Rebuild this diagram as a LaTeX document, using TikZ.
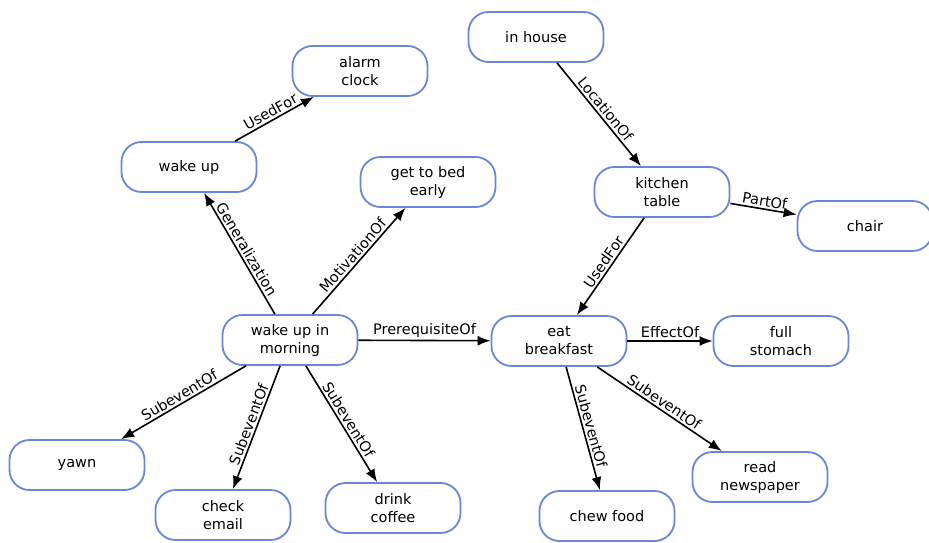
\documentclass[tikz,border=0pt]{standalone}
\usepackage{fontspec}
\setmainfont{DejaVu Sans}
\usetikzlibrary{arrows.meta}
\definecolor{nodeblue}{RGB}{105,135,215}
\tikzset{
  concept/.style={draw=nodeblue, line width=1.8pt, rounded corners=20pt, fill=white,
    minimum width=135pt, minimum height=50pt, align=center, inner sep=2pt,
    font=\fontsize{14.5}{18}\selectfont},
  rel/.style={draw=black, line width=1.6pt, -{Latex[length=13pt,width=10pt]}},
  lab/.style={sloped, above, inner sep=2pt, font=\fontsize{14.5}{16}\selectfont}
}
\begin{document}
\begin{tikzpicture}[x=1pt,y=-1pt]
\useasboundingbox (0,0) rectangle (929,543);
\node[concept] (alarm) at (360,71) {alarm\\clock};
\node[concept] (wake) at (189,167) {wake up};
\node[concept] (bed) at (428,182) {get to bed\\early};
\node[concept] (wuim) at (290,340) {wake up in\\morning};
\node[concept] (eat) at (559,341) {eat\\breakfast};
\node[concept] (full) at (781,341) {full\\stomach};
\node[concept] (news) at (760,477) {read\\newspaper};
\node[concept] (chew) at (607,516) {chew food};
\node[concept] (house) at (536,37) {in house};
\node[concept] (kitchen) at (662,192) {kitchen\\table};
\node[concept] (chair) at (865,226) {chair};
\node[concept] (yawn) at (77,465) {yawn};
\node[concept] (email) at (223,515) {check\\email};
\node[concept] (coffee) at (393,508) {drink\\coffee};

\draw[rel] (wake) -- node[lab] {UsedFor} (alarm);
\draw[rel] (wuim) -- node[lab] {Generalization} (wake);
\draw[rel] (wuim) -- node[lab] {MotivationOf} (bed);
\draw[rel] (wuim) -- node[lab] {PrerequisiteOf} (eat);
\draw[rel] (kitchen) -- node[lab] {UsedFor} (eat);
\draw[rel] (house) -- node[lab] {LocationOf} (kitchen);
\draw[rel] (kitchen) -- node[lab] {PartOf} (chair);
\draw[rel] (eat) -- node[lab] {EffectOf} (full);
\draw[rel] (eat) -- node[lab] {SubeventOf} (news);
\draw[rel] (eat) -- node[lab] {SubeventOf} (chew);
\draw[rel] (wuim) -- node[lab] {SubeventOf} (yawn);
\draw[rel] (wuim) -- node[lab] {SubeventOf} (email);
\draw[rel] (wuim) -- node[lab] {SubeventOf} (coffee);
\end{tikzpicture}
\end{document}
